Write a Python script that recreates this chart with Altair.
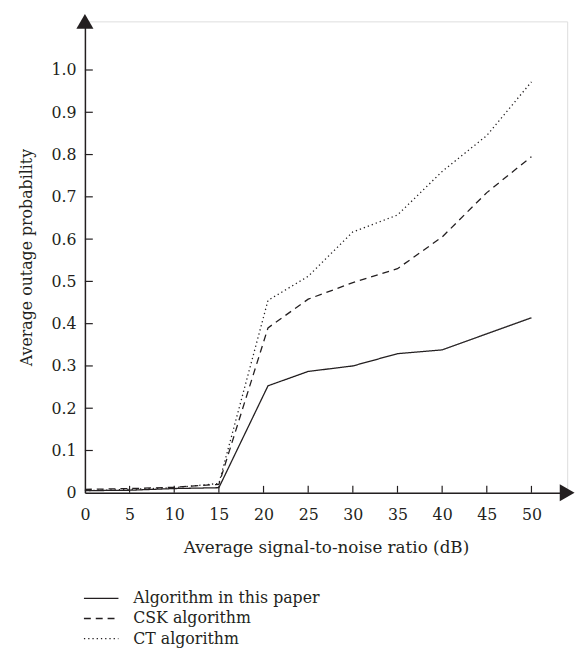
import altair as alt
import pandas as pd

# ---- data ----
snr = [0, 5, 10, 15, 20.5, 25, 30, 35, 40, 45, 50]
proposed = [0.005, 0.006, 0.010, 0.012, 0.253, 0.287, 0.300, 0.329, 0.338, 0.376, 0.414]
csk = [0.008, 0.010, 0.013, 0.020, 0.390, 0.458, 0.497, 0.530, 0.605, 0.710, 0.795]
ct = [0.005, 0.008, 0.012, 0.022, 0.455, 0.512, 0.617, 0.657, 0.760, 0.845, 0.972]

series_names = ["Algorithm in this paper", "CSK algorithm", "CT algorithm"]
x_ticks = [0, 5, 10, 15, 20, 25, 30, 35, 40, 45, 50]
y_ticks = [0, 0.1, 0.2, 0.3, 0.4, 0.5, 0.6, 0.7, 0.8, 0.9, 1.0]

INK = "#231f20"
FONT = "DejaVu Serif"
W, H = 489, 478
XMAX, YMAX = 54, 1.115

rows = []
for name, vals in zip(series_names, [proposed, csk, ct]):
    for x, v in zip(snr, vals):
        rows.append({"snr": x, "p": v, "series": name})
df = pd.DataFrame(rows)

dash_scale = alt.Scale(domain=series_names, range=[[1, 0], [7, 5], [1.3, 3]])

xs = alt.Scale(domain=[0, XMAX], nice=False, zero=False)
ys = alt.Scale(domain=[0, YMAX], nice=False, zero=False)

x_axis = alt.Axis(values=x_ticks, ticks=False, tickSize=0, grid=False,
                  labelFont=FONT, labelFontSize=16, labelColor=INK, labelPadding=14,
                  domainColor=INK, domainWidth=1.5, labelFlush=False,
                  title="Average signal-to-noise ratio (dB)", titleFont=FONT,
                  titleFontSize=17, titleFontWeight="normal", titleColor=INK,
                  titlePadding=18)
y_axis = alt.Axis(values=y_ticks, ticks=False, tickSize=0, grid=False,
                  labelFont=FONT, labelFontSize=16, labelColor=INK, labelPadding=9,
                  labelExpr="datum.value == 0 ? '0' : format(datum.value, '.1f')",
                  domainColor=INK, domainWidth=1.5, labelFlush=False,
                  title="Average outage probability", titleFont=FONT,
                  titleFontSize=16, titleFontWeight="normal", titleColor=INK,
                  titlePadding=17)

lines = alt.Chart(df).mark_line(color=INK, strokeWidth=1.3, clip=False).encode(
    x=alt.X("snr:Q", scale=xs, axis=x_axis),
    y=alt.Y("p:Q", scale=ys, axis=y_axis),
    strokeDash=alt.StrokeDash("series:N", scale=dash_scale, legend=None),
    detail="series:N",
)

xt = pd.DataFrame({"t": [t for t in x_ticks if t > 0]})
yt = pd.DataFrame({"t": [t for t in y_ticks if t > 0]})

x_tick_marks = alt.Chart(xt).mark_rule(color=INK, strokeWidth=1.2).encode(
    x=alt.X("t:Q", scale=xs), y=alt.value(H), y2=alt.value(H - 7))
y_tick_marks = alt.Chart(yt).mark_rule(color=INK, strokeWidth=1.2).encode(
    y=alt.Y("t:Q", scale=ys), x=alt.value(0), x2=alt.value(8))

arrow_y = alt.Chart(pd.DataFrame({"x": [0], "y": [YMAX]})).mark_point(
    shape="triangle-up", filled=True, color=INK, size=300, opacity=1).encode(
    x=alt.X("x:Q", scale=xs), y=alt.Y("y:Q", scale=ys))
arrow_x = alt.Chart(pd.DataFrame({"x": [XMAX], "y": [0]})).mark_point(
    shape="triangle-right", filled=True, color=INK, size=300, opacity=1).encode(
    x=alt.X("x:Q", scale=xs), y=alt.Y("y:Q", scale=ys))

legend_layers = []
for i, name in enumerate(series_names):
    ly = H + 107 + 20.5 * i
    ldf = pd.DataFrame({"series": [name]})
    legend_layers.append(
        alt.Chart(ldf).mark_rule(color=INK, strokeWidth=1.3).encode(
            x=alt.value(-1), x2=alt.value(34), y=alt.value(ly),
            strokeDash=alt.StrokeDash("series:N", scale=dash_scale, legend=None)))
    legend_layers.append(
        alt.Chart(ldf).mark_text(align="left", baseline="middle", font=FONT,
                                 fontSize=16, color=INK).encode(
            x=alt.value(49), y=alt.value(ly), text="series:N"))

chart = alt.layer(lines, x_tick_marks, y_tick_marks, arrow_y, arrow_x, *legend_layers).properties(
    width=W, height=H,
    padding={"left": 78, "top": 9, "right": 12, "bottom": 165},
    autosize=alt.AutoSizeParams(type="none"),
).configure_view(stroke=None).configure(background="white")

chart.save("out.html", embed_options={"renderer": "svg", "actions": False})
